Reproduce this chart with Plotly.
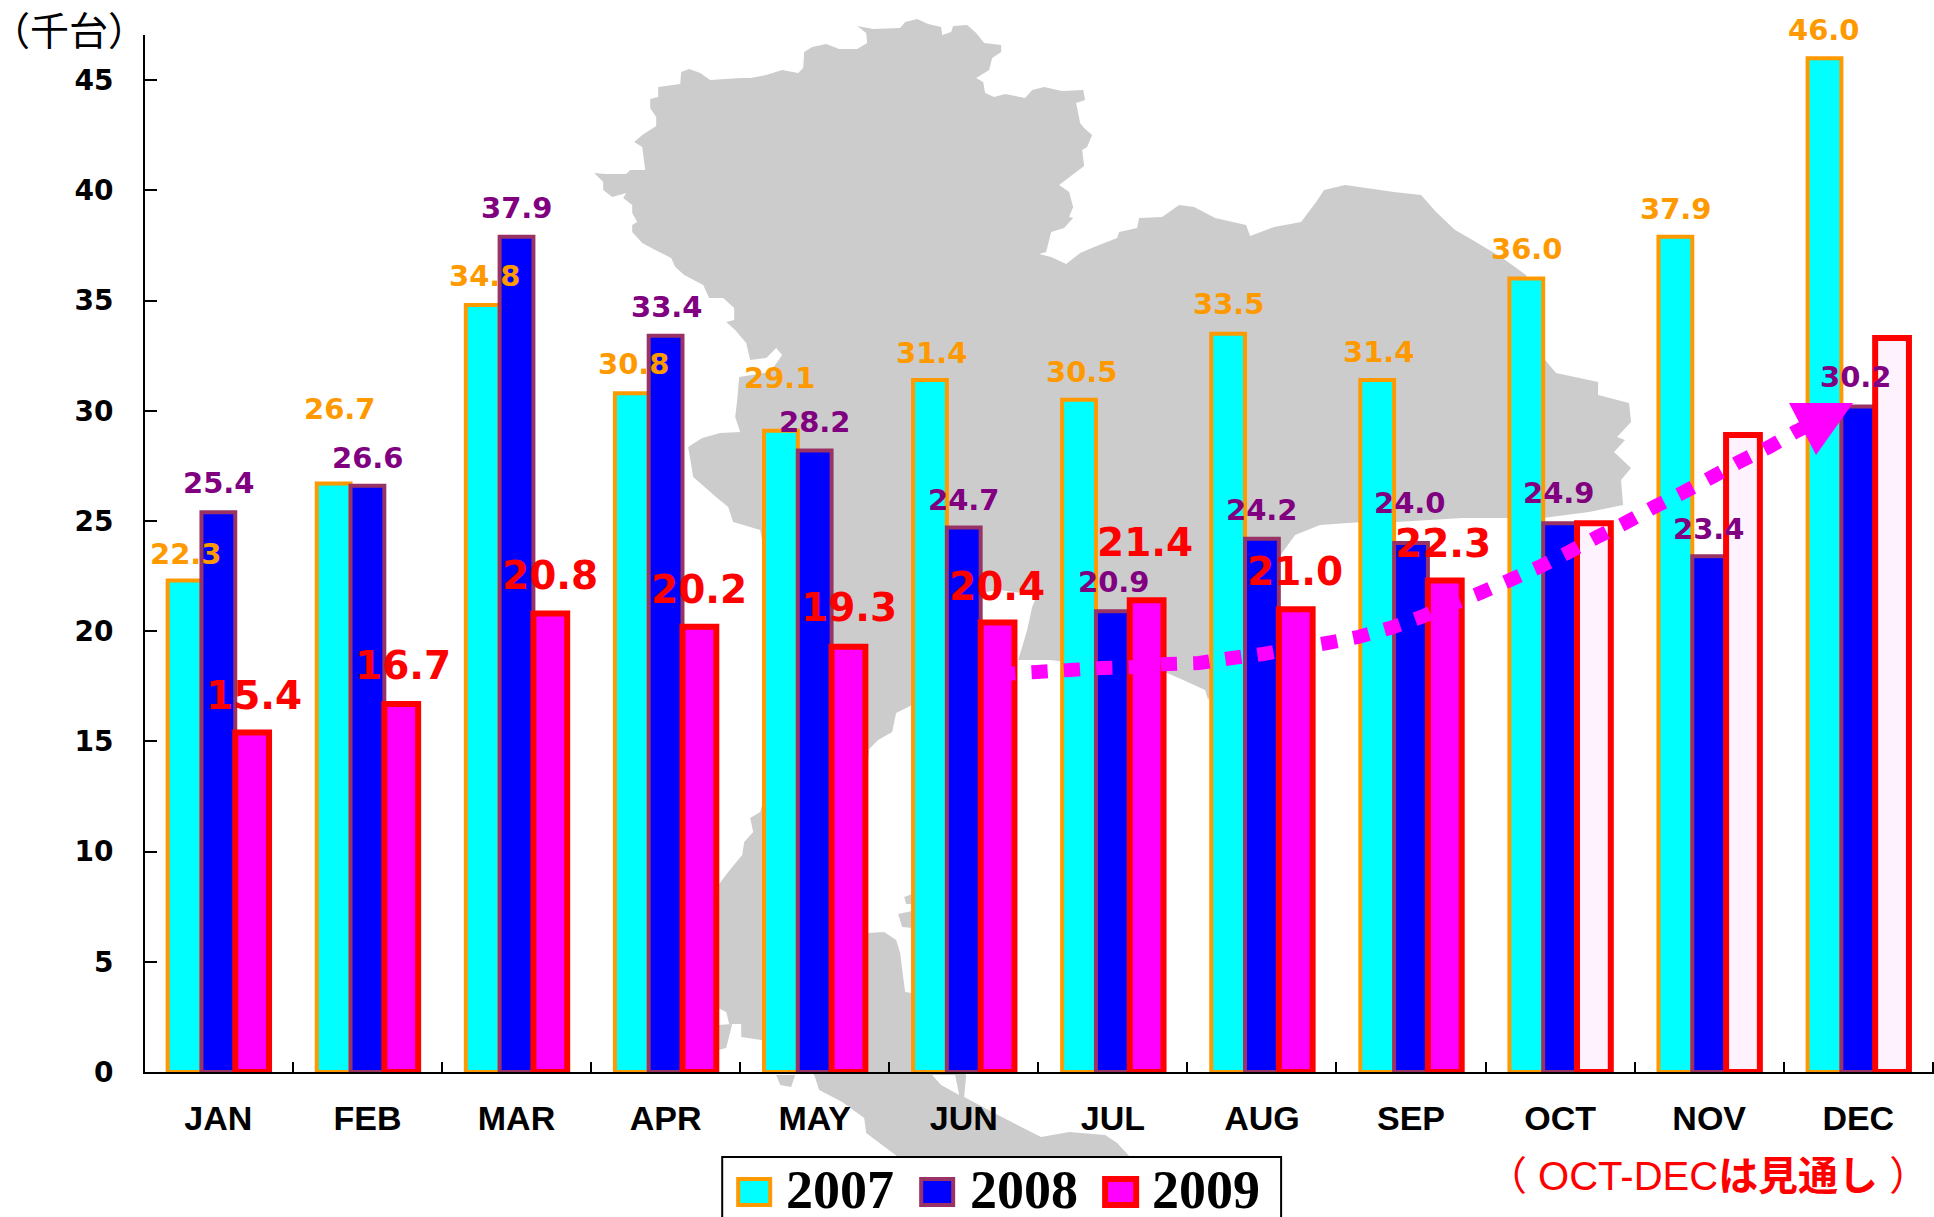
import plotly.graph_objects as go

months = ["JAN","FEB","MAR","APR","MAY","JUN","JUL","AUG","SEP","OCT","NOV","DEC"]
y2007 = [22.3,26.7,34.8,30.8,29.1,31.4,30.5,33.5,31.4,36.0,37.9,46.0]
y2008 = [25.4,26.6,37.9,33.4,28.2,24.7,20.9,24.2,24.0,24.9,23.4,30.2]
y2009 = [15.4,16.7,20.8,20.2,19.3,20.4,21.4,21.0,22.3,24.9,28.9,33.3]
n_labelled_2009 = 9

# label offsets in px relative to the category centre / bar top
dx07 = [-32,-27,-32,-32,-35,-32,-31,-33,-32,-33,-33,-34]
dy07 = [27,75,29,29,53,27,28,30,28,30,28,28]
dx08 = [1,1,0,1,0,0,1,0,-1,-1,0,-2]
dy08 = [29,28,29,29,28,28,29,29,40,30,27,29]
dx09 = [36,36,33,33,34,33,32,33,32]
dy09 = [37,38,38,37,39,36,58,38,37]

W, H = 1934, 1217
L, T, B = 144.7, 35, 1072
PW, PH = W - L, B - T
YMAX = (B - T) / 22.04

def px(x): return (x - L) / PW
def py(y): return (B - y) / PH
def path(pts, close=True):
    s = "M " + " L ".join(f"{px(x):.5f},{py(y):.5f}" for x, y in pts)
    return s + (" Z" if close else "")

# decorative background map outline (page pixels)
map_outline = [(594,173),(605,174),(626,174),(630,170),(645,170),(642,147),(634,142),(642,135),(656,126),(656,117),
(650,108),(650,99),(658,97),(658,87),(680,84),(681,72),(689,69),(700,73),(710,80),(741,78),(750,78),(766,75),(782,70),
(798,73),(803,68),(804,52),(812,47),(826,44),(839,49),(857,49),(867,43),(866,33),(857,26),(873,29),(900,28),(905,22),
(917,19),(928,24),(941,27),(942,35),(951,32),(953,26),(967,25),(976,33),(984,43),(1001,45),(1001,52),(992,58),(989,70),
(976,78),(983,82),(985,93),(994,97),(1005,94),(1025,98),(1032,90),(1044,87),(1062,91),(1083,90),(1085,100),(1076,103),
(1080,123),(1084,128),(1092,135),(1087,147),(1082,150),(1084,166),(1059,185),(1069,192),(1073,207),(1069,217),(1073,218),
(1064,228),(1051,232),(1046,252),(1039,254),(1051,257),(1066,264),(1080,253),(1094,247),(1117,238),(1119,232),(1137,228),
(1139,218),(1162,217),(1179,205),(1194,207),(1215,218),(1246,225),(1250,236),(1274,227),(1301,222),(1316,202),(1324,190),
(1345,185),(1394,192),(1421,195),(1436,212),(1455,230),(1469,238),(1501,257),(1526,275),(1545,360),(1556,373),(1598,382),
(1598,395),(1629,403),(1631,422),(1617,437),(1625,440),(1614,452),(1631,468),(1621,480),(1623,505),(1589,512),(1543,518),
(1507,518),(1463,518),(1396,522),(1362,522),(1320,525),(1295,535),(1282,553),(1240,640),(1208,700),(1205,690),(1183,680),
(1167,673),(1050,660),(1018,660),(1022,647),(1027,630),(1032,607),(1037,595),(1000,590),(985,592),(960,650),(912,705),
(896,713),(892,732),(878,740),(869,749),(860,850),(867,933),(884,932),(896,940),(900,953),(903,977),(905,992),(912,993),
(940,1040),(966,1075),(964,1097),(994,1113),(1023,1128),(1041,1137),(1069,1132),(1105,1135),(1117,1143),(1130,1157),
(1150,1170),(898,1170),(898,1157),(866,1133),(864,1118),(842,1102),(819,1090),(814,1075),(790,1055),(761,1040),(741,1037),
(741,1024),(729,1024),(726,1012),(718,1008),(719,884),(728,872),(742,855),(744,842),(753,832),(750,818),(760,812),(790,700),
(760,530),(733,522),(728,507),(717,498),(693,477),(688,447),(702,438),(720,433),(740,432),(735,417),(737,400),(739,377),
(770,372),(782,355),(776,348),(766,358),(750,360),(746,343),(735,330),(726,322),(734,320),(734,308),(723,298),(709,298),
(703,285),(684,275),(675,267),(671,258),(655,250),(642,243),(632,232),(632,225),(637,222),(632,213),(632,205),(623,198),
(626,193),(612,197),(603,190),(603,182)]
map_islands = [
    [(718,1025),(732,1024),(726,1048),(718,1050)],
    [(776,1075),(795,1075),(791,1087),(780,1085)],
    [(904,897),(912,894),(912,904),(906,904)],
    [(898,914),(912,911),(912,928),(902,927)],
]
map_channel = [(932,1075),(955,1075),(959,1095),(941,1085)]

# dotted outlook arrow (page pixels)
arrow_path = [(999,674),(1037,672),(1070,670),(1102,668),(1135,667),(1167,664),(1199,663),(1232,658),(1263,654),(1327,643),
(1358,637),(1390,628),(1421,617),(1450,605),(1480,593),(1510,580),(1539,567),(1569,552),(1597,537),(1625,523),(1654,507),
(1682,493),(1712,477),(1739,462),(1769,447),(1795,432),(1803,428)]
arrow_head = [(1789,403),(1853,403),(1816,455)]

C07, E07 = "#00FFFF", "#FF9900"
C08, E08 = "#0000FF", "#993366"
C09, E09 = "#FF00FF", "#FF0000"
C09_OUTLOOK = "#FFF2FF"
L08 = "#800080"
LBL_FONT = "DejaVu Sans"

colors09 = [C09]*n_labelled_2009 + [C09_OUTLOOK]*(12-n_labelled_2009)

fig = go.Figure()
fig.add_bar(x=months, y=y2007, name="2007", marker=dict(color=C07, line=dict(color=E07, width=4)), cliponaxis=False)
fig.add_bar(x=months, y=y2008, name="2008", marker=dict(color=C08, line=dict(color=E08, width=4)), cliponaxis=False)
fig.add_bar(x=months, y=y2009, name="2009",
            marker=dict(color=colors09, line=dict(color=E09, width=6)), cliponaxis=False)

ann = []
def lab(m, v, dx, dy, color, size):
    ann.append(dict(x=m, y=v, xref="x", yref="y", xshift=dx, yshift=dy, text=f"{v:.1f}", showarrow=False,
                    font=dict(family=LBL_FONT, size=size, color=color, weight="bold"),
                    xanchor="center", yanchor="middle"))
for i, m in enumerate(months):
    lab(m, y2007[i], dx07[i], dy07[i], E07, 29)
for i, m in enumerate(months):
    lab(m, y2008[i], dx08[i], dy08[i], L08, 29)
for i in range(n_labelled_2009):
    lab(months[i], y2009[i], dx09[i], dy09[i], E09, 39)

ann.append(dict(x=px(68.5), y=py(28), xref="paper", yref="paper", text="（千台）", showarrow=False,
                font=dict(family="Noto Sans CJK JP", size=39, color="#000000"), xanchor="center", yanchor="middle"))
ann.append(dict(x=px(1708), y=py(1176), xref="paper", yref="paper", text="（ OCT-DEC<b>は見通し</b> ）", showarrow=False,
                font=dict(family="Liberation Sans, Noto Sans CJK JP", size=40, color=E09), xanchor="center", yanchor="middle"))

shapes = [dict(type="path", path=path(map_outline), xref="paper", yref="paper", fillcolor="#CCCCCC",
               line=dict(width=0), layer="below")]
for isl in map_islands:
    shapes.append(dict(type="path", path=path(isl), xref="paper", yref="paper", fillcolor="#CCCCCC",
                       line=dict(width=0), layer="below"))
shapes.append(dict(type="path", path=path(map_channel), xref="paper", yref="paper", fillcolor="#FFFFFF",
                   line=dict(width=0), layer="below"))
shapes.append(dict(type="path", path=path(arrow_path, close=False), xref="paper", yref="paper",
                   line=dict(color=C09, width=14, dash="16.2px,16.2px"), layer="above"))
shapes.append(dict(type="path", path=path(arrow_head), xref="paper", yref="paper", fillcolor=C09,
                   line=dict(width=0), layer="above"))
# hand-built legend, clipped by the bottom of the page like the reference
shapes.append(dict(type="rect", xref="paper", yref="paper", x0=px(722), x1=px(1281), y0=py(1157), y1=py(1230),
                   fillcolor="#FFFFFF", line=dict(color="#000000", width=2), layer="above"))
for (x0, x1, fc, ec, w), (tx, name) in zip(
        [(738,770,C07,E07,4),(921,953,C08,E08,4),(1105,1136,C09,E09,6)],
        [(840,"2007"),(1024,"2008"),(1206,"2009")]):
    shapes.append(dict(type="rect", xref="paper", yref="paper", x0=px(x0), x1=px(x1), y0=py(1179), y1=py(1205),
                       fillcolor=fc, line=dict(color=ec, width=w), layer="above"))
    ann.append(dict(x=px(tx), y=py(1190), xref="paper", yref="paper", text=name, showarrow=False,
                    font=dict(family="Liberation Serif", size=54, color="#000000", weight="bold"),
                    xanchor="center", yanchor="middle"))

fig.update_layout(
    width=W, height=H, autosize=False, margin=dict(l=L, r=0, t=T, b=H-B, pad=0),
    paper_bgcolor="rgba(0,0,0,0)", plot_bgcolor="rgba(0,0,0,0)", showlegend=False,
    barmode="group", bargap=0.32, bargroupgap=0, annotations=ann, shapes=shapes,
    xaxis=dict(type="category", categoryorder="array", categoryarray=months, range=[-0.492,11.508],
               showgrid=False, zeroline=False, showline=True, linecolor="#000000", linewidth=2,
               ticks="inside", ticklen=10, tickwidth=2, tickcolor="#000000", tickson="boundaries",
               ticklabelstandoff=15,
               tickfont=dict(family="Liberation Sans", size=34, color="#000000", weight="bold")),
    yaxis=dict(range=[0, YMAX], tick0=0, dtick=5, showgrid=False, zeroline=False, showline=True,
               linecolor="#000000", linewidth=2, ticks="inside", ticklen=12, tickwidth=2, tickcolor="#000000",
               ticklabelstandoff=24,
               tickfont=dict(family="DejaVu Sans", size=28, color="#000000", weight="bold")),
)
fig.write_html("out.html", post_script="document.body.style.margin='0';", config={"displayModeBar": False})
